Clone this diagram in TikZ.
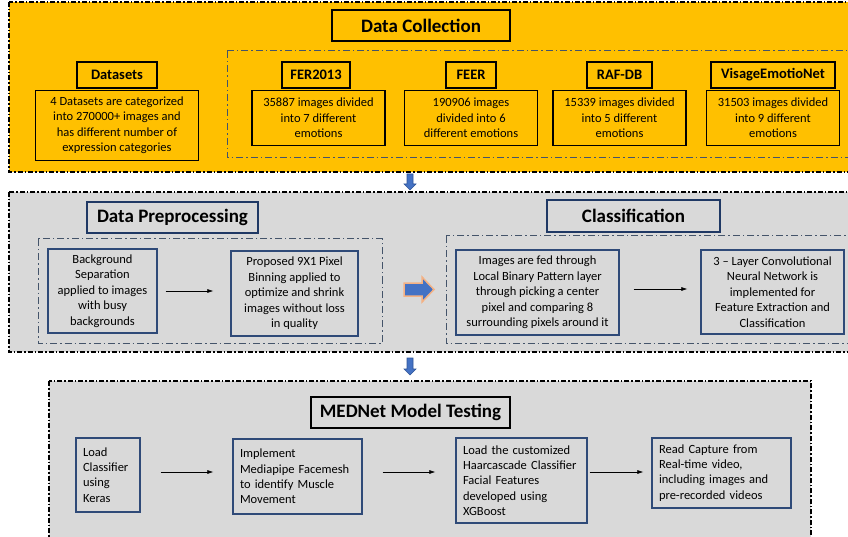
\documentclass[tikz,border=0pt]{standalone}
\usepackage{fontspec}
\setmainfont{Carlito}
\usetikzlibrary{positioning,arrows.meta,calc}

\definecolor{dcyellow}{HTML}{FFC000}
\definecolor{secgray}{HTML}{D9D9D9}
\definecolor{boxnavy}{HTML}{2F4A78}
\definecolor{darknavy}{HTML}{1F3864}
\definecolor{slate}{HTML}{44546A}
\definecolor{arrowblue}{HTML}{4472C4}
\definecolor{arrowedge}{HTML}{2F5597}
\definecolor{peach}{HTML}{F4B183}

\begin{document}
\begin{tikzpicture}[
  x=1pt, y=-1pt,
  section/.style={draw=black, line width=1.4pt, dash pattern=on 5pt off 2pt on 1.5pt off 2pt},
  group/.style={draw=slate, line width=1pt, dash pattern=on 7pt off 3pt on 1.5pt off 3pt},
  title/.style={draw, line width=2pt, inner sep=0pt, minimum height=31pt, font=\fontsize{19}{22}\selectfont\bfseries},
  head/.style={draw, line width=1.5pt, inner sep=0pt, minimum height=26pt, font=\fontsize{14.5}{17}\selectfont\bfseries},
  body/.style={draw, line width=1.3pt, inner sep=0pt, align=center, font=\fontsize{12.5}{15.5}\selectfont},
  task/.style={body, draw=boxnavy},
  job/.style={draw=boxnavy, line width=1.3pt, inner xsep=7pt, inner ysep=0pt, align=left, font=\fontsize{12.5}{15.3}\selectfont},
  flow/.style={-{Latex[length=6pt,width=4pt]}, line width=0.6pt},
  blockdown/.style={fill=arrowblue, draw=arrowedge, line width=0.6pt},
]
\clip (0,0) rectangle (848,537);

% section frames
\fill[dcyellow] (9,2) rectangle (870,172);
\draw[section] (9,2) rectangle (870,172);
\fill[secgray] (9,192) rectangle (870,352);
\draw[section] (9,192) rectangle (870,352);
\fill[secgray] (49,381) rectangle (811,560);
\draw[section] (49,381) rectangle (811,560);

% Data Collection
\node[title, minimum width=178pt] (coll) at (421,25.5) {Data Collection};
\draw[group] (227,51) rectangle (870,158);

\node[head, minimum width=80pt] (dsh) at (117,75) {Datasets};
\node[body, minimum width=163pt, minimum height=70pt, below=1pt of dsh] (dsb)
  {4 Datasets are categorized\\into 270000+ images and\\has different number of\\expression categories};

\node[head, minimum width=68pt] (ferh) at (316,75) {FER2013};
\node[body, minimum width=133pt, minimum height=55pt, below=1pt of ferh, xshift=2.5pt] (ferb)
  {35887 images divided\\into 7 different\\emotions};

\node[head, minimum width=50pt] (feerh) at (471,75) {FEER};
\node[body, minimum width=133pt, minimum height=55pt, below=1pt of feerh] (feerb)
  {190906 images\\divided into 6\\different emotions};

\node[head, minimum width=65pt] (rafh) at (619.5,75) {RAF-DB};
\node[body, minimum width=133pt, minimum height=55pt, below=1pt of rafh] (rafb)
  {15339 images divided\\into 5 different\\emotions};

\node[head, minimum width=124pt] (vish) at (773,75) {VisageEmotioNet};
\node[body, minimum width=133pt, minimum height=55pt, below=1pt of vish] (visb)
  {31503 images divided\\into 9 different\\emotions};

% Data Preprocessing
\node[title, draw=darknavy, minimum width=171pt] (prep) at (172.5,217.5) {Data Preprocessing};
\draw[group] (38,239) rectangle (382,343);
\node[task, minimum width=109pt, minimum height=84pt] (bgsep) at (102.5,291)
  {Background\\Separation\\applied to images\\with busy\\backgrounds};
\node[task, minimum width=127pt, minimum height=85pt] (binning) at (294.5,293.5)
  {Proposed 9X1 Pixel\\Binning applied to\\optimize and shrink\\images without loss\\in quality};
\draw[flow, shorten <=8pt, shorten >=17pt] (bgsep.east) -- (bgsep.east -| binning.west);

\filldraw[fill=arrowblue, draw=peach, line width=1.5pt]
  (404,283) -- (422,283) -- (422,277) -- (434,289.5) -- (422,302) -- (422,296) -- (404,296) -- cycle;

% Classification
\node[title, draw=darknavy, minimum width=173pt, minimum height=32pt] (cls) at (633.5,216) {Classification};
\draw[group] (446,236) rectangle (870,343);
\node[task, minimum width=163pt, minimum height=85pt] (lbp) at (537.5,292.5)
  {Images are fed through\\Local Binary Pattern layer\\through picking a center\\pixel and comparing 8\\surrounding pixels around it};
\node[task, minimum width=143pt, minimum height=84pt] (cnn) at (772.5,292)
  {3 -- Layer Convolutional\\Neural Network is\\implemented for\\Feature Extraction and\\Classification};
\draw[flow, shorten <=14pt, shorten >=13pt] ([yshift=3.5pt]lbp.east) -- ([yshift=3.5pt]lbp.east -| cnn.west);

% MEDNet Model Testing
\node[title, minimum width=199pt] (test) at (410.5,412.5) {MEDNet Model Testing};
\node[job, text width=50pt, minimum height=74pt] (keras) at (108,475)
  {Load\\Classifier\\using\\Keras};
\node[job, text width=115pt, minimum height=75pt] (mesh) at (297.5,476.5)
  {Implement\\Mediapipe Facemesh\\to identify Muscle\\Movement};
\node[job, text width=117pt, minimum height=85pt] (haar) at (521.5,480.5)
  {Load the customized\\Haarcascade Classifier\\Facial Features\\developed using\\XGBoost};
\node[job, text width=125pt, minimum height=70pt] (capture) at (721.5,473)
  {Read Capture from\\Real-time video,\\including images and\\pre-recorded videos};
\draw[flow, shorten <=20pt, shorten >=19pt] ([yshift=3pt]keras.east) -- ([yshift=3pt]keras.east -| mesh.west);
\draw[flow, shorten <=20pt, shorten >=20pt] ([yshift=4.5pt]mesh.east) -- ([yshift=4.5pt]mesh.east -| haar.west);
\draw[flow, shorten <=2pt, shorten >=8pt] ([yshift=8.5pt]haar.east) -- ([yshift=8.5pt]haar.east -| capture.west);

% arrows between sections
\foreach \y/\l in {174/10, 358/11}
  \filldraw[blockdown] (407,\y) -- (413,\y) -- (413,\y+\l) -- (416,\y+\l)
    -- (410,\y+\l+6) -- (404,\y+\l) -- (407,\y+\l) -- cycle;
\end{tikzpicture}
\end{document}
